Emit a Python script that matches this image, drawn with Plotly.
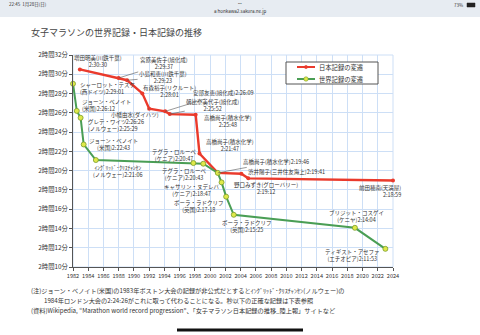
import plotly.graph_objects as go

# ---------------- data ----------------
jp_year = [1982.9, 1988.0, 1989.1, 1991.1, 1992.0, 1994.1, 1994.7, 1998.1, 1998.6, 2001.0, 2004.1, 2005.0, 2024.0]
jp_time = ["2:30:30", "2:29:37", "2:29:23", "2:28:01", "2:26:26", "2:26:09", "2:25:52",
           "2:25:48", "2:21:47", "2:19:46", "2:19:41", "2:19:12", "2:18:59"]
jp_name = ["増田明美(川鉄千葉)", "宮原美佐子(旭化成)", "小島和恵(川鉄千葉)", "有森裕子(リクルート)",
           "小幡由水(ダイハツ)", "安部友恵(旭化成)", "朝比奈美代子(旭化成)", "高橋尚子(積水化学)",
           "高橋尚子(積水化学)", "高橋尚子(積水化学)", "渋井陽子(三井住友海上)", "野口みずき(グローバリー)",
           "前田穂南(天満屋)"]

wr_year = [1982.0, 1982.5, 1983.0, 1983.4, 1985.0, 1997.8, 1999.1, 2001.0, 2001.5, 2002.1, 2003.1, 2019.0, 2023.0]
wr_time = ["2:29:01", "2:26:12", "2:25:29", "2:22:43", "2:21:06", "2:20:47", "2:20:43",
           "2:19:46", "2:18:47", "2:17:18", "2:15:25", "2:14:04", "2:11:53"]
wr_name = ["シャーロット・テスケ", "ジョーン・ベノイト", "グレテ・ワイツ", "ジョーン・ベノイト",
           "ｲﾝｸﾞﾘｯﾄﾞ･ｸﾘｽﾁｬﾝｾﾝ", "テグラ・ロルーペ", "テグラ・ロルーペ", None,
           "キャサリン・ヌデレバ", "ポーラ・ラドクリフ", "ポーラ・ラドクリフ", "ブリジット・コスゲイ",
           "ティギスト・アセファ"]
wr_country = ["(西ドイツ)", "(米国)", "(ノルウェー)", "(米国)", "(ノルウェー)", "(ケニア)", "(ケニア)", None,
              "(ケニア)", "(英国)", "(英国)", "(ケニヤ)", "(エチオピア)"]

y_ticks = list(range(10, 33, 2))
y_ticktext = [f"2時間{v}分" for v in y_ticks]
x_ticks = list(range(1982, 2025, 2))

title_text = "女子マラソンの世界記録・日本記録の推移"
legend_jp = "日本記録の変遷"
legend_wr = "世界記録の変遷"
note_lines = [
    "(注)ジョーン・ベノイト(米国)の1983年ボストン大会の記録が非公式だとするとｲﾝｸﾞﾘｯﾄﾞ･ｸﾘｽﾁｬﾝｾﾝ(ノルウェー)の",
    "1984年ロンドン大会の2:24:26がこれに取って代わることになる。秒以下の正確な記録は下表参照",
    "(資料)Wikipedia, “Marathon world record progression”、「女子マラソン日本記録の推移_陸上報」サイトなど",
]


def to_min(s):
    h, m, sec = s.split(":")
    return (int(h) - 2) * 60 + int(m) + int(sec) / 60


jp_y = [to_min(t) for t in jp_time]
wr_y = [to_min(t) for t in wr_time]

# ---------------- style / layout ----------------
W, H = 480, 335
L, R, T, B = 73, 87, 55, 68
FONT = "Noto Sans CJK JP"
RED = "#ea3a2c"
GREEN = "#4a9e55"
MK_FILL = "#dfe94a"
MK_LINE = "#7a9a2a"
GRID = "#cddff6"
TXT = "#333333"
LAB = 5.5

fig = go.Figure()
fig.add_trace(go.Scatter(
    x=jp_year, y=jp_y, mode="lines+markers", name=legend_jp, showlegend=False,
    line=dict(color=RED, width=2.4), marker=dict(color=RED, size=4),
    cliponaxis=False))
fig.add_trace(go.Scatter(
    x=wr_year, y=wr_y, mode="lines+markers", name=legend_wr, showlegend=False,
    line=dict(color=GREEN, width=2.0),
    marker=dict(color=MK_FILL, size=5, line=dict(color=MK_LINE, width=0.8)),
    cliponaxis=False))

# label placement: (dx, dy, mode, arrow)
jp_place = [
    (18, -8, "c", False), (45, -14, "c", True), (36, -3, "c", True), (27, -2, "c", False),
    (-14, 10, "c", True), (58, -18, "c", True), (43, -8.5, "c", True), (32, 7, "c", False),
    (31, -8, "c", False), (58, -11, "c", True), (45, -2, "c", False), (18, 10.6, "c", False),
    (10, 11.5, "r", False),
]
jp_oneline = [False, False, False, False, False, True, False, False, False, True, True, False, False]

wr_place = [
    (5, 4.3, "l"), (3, -5, "l"), (5, 7.6, "l"), (29.5, 0.5, "c"), (22, 11, "c"),
    (-19, -8, "c"), (-19, 11, "c"), None, (-30, 8, "c"), (-27, 10, "c"),
    (13, 12, "c"), (2, -11, "c"), (-33, 6.5, "c"),
]

for i in range(len(jp_year)):
    dx, dy, mode, arrow = jp_place[i]
    sep = "" if jp_oneline[i] else "<br>"
    text = f"{jp_name[i]}{sep}{jp_time[i]}"
    common = dict(x=jp_year[i], y=jp_y[i], text=text,
                  font=dict(family=FONT, size=LAB, color=TXT))
    if arrow:
        fig.add_annotation(**common, showarrow=True, ax=dx, ay=dy, arrowhead=0,
                           arrowwidth=0.6, arrowcolor="#555555", standoff=0, align="center")
    else:
        xa = {"c": "center", "l": "left", "r": "right"}[mode]
        fig.add_annotation(**common, showarrow=False, xshift=dx, yshift=-dy,
                           xanchor=xa, yanchor="middle", align=xa)

for i in range(len(wr_year)):
    if wr_place[i] is None:
        continue
    dx, dy, mode = wr_place[i]
    text = f"{wr_name[i]}<br>{wr_country[i]}{wr_time[i]}"
    xa = {"c": "center", "l": "left", "r": "right"}[mode]
    fig.add_annotation(x=wr_year[i], y=wr_y[i], text=text, showarrow=False,
                       xshift=dx, yshift=-dy, xanchor=xa, yanchor="middle", align=xa,
                       font=dict(family=FONT, size=LAB, color=TXT))


def px_x(p):
    return (p - L) / (W - L - R)


def px_y(p):
    return (H - B - p) / (H - T - B)


def pfont(size, color=TXT):
    return dict(family=FONT, size=size, color=color)


# title
fig.add_annotation(xref="paper", yref="paper", x=px_x(29), y=px_y(33), text=title_text,
                   showarrow=False, xanchor="left", yanchor="middle", font=pfont(9, "#444444"))

# manual compact legend
fig.add_shape(type="rect", xref="paper", yref="paper", x0=px_x(286), x1=px_x(378),
              y0=px_y(84), y1=px_y(62), line=dict(color="#555555", width=1), fillcolor="white")
for yy, col, name, green in [(67, RED, legend_jp, False), (79, GREEN, legend_wr, True)]:
    fig.add_shape(type="line", xref="paper", yref="paper", x0=px_x(297), x1=px_x(315),
                  y0=px_y(yy), y1=px_y(yy), line=dict(color=col, width=2))
    r = 2.2 if green else 1.6
    fig.add_shape(type="circle", xref="paper", yref="paper", x0=px_x(306 - r), x1=px_x(306 + r),
                  y0=px_y(yy + r), y1=px_y(yy - r),
                  fillcolor=MK_FILL if green else RED,
                  line=dict(color=MK_LINE if green else RED, width=0.6))
    fig.add_annotation(xref="paper", yref="paper", x=px_x(317), y=px_y(yy), text=name,
                       showarrow=False, xanchor="left", yanchor="middle", font=pfont(6.3))

# notes
note_pos = [(29, 290), (42, 300.5), (29, 310)]
for (nx, ny), t in zip(note_pos, note_lines):
    fig.add_annotation(xref="paper", yref="paper", x=px_x(nx), y=px_y(ny), text=t,
                       showarrow=False, xanchor="left", yanchor="middle", font=pfont(6.2))

# status bar (screenshot chrome)
fig.add_shape(type="rect", xref="paper", yref="paper", x0=px_x(0), x1=px_x(W),
              y0=px_y(17), y1=px_y(0), fillcolor="#e7ecf2", line_width=0, layer="below")
fig.add_annotation(xref="paper", yref="paper", x=px_x(7), y=px_y(5), text="22:45  1月28日(日)",
                   showarrow=False, xanchor="left", yanchor="middle", font=pfont(4.5))
fig.add_annotation(xref="paper", yref="paper", x=px_x(240), y=px_y(3), text="•••",
                   showarrow=False, xanchor="center", yanchor="middle", font=pfont(3.5, "#555555"))
fig.add_annotation(xref="paper", yref="paper", x=px_x(240), y=px_y(11), text="a honkawa2.sakura.ne.jp",
                   showarrow=False, xanchor="center", yanchor="middle", font=pfont(4.5))
fig.add_annotation(xref="paper", yref="paper", x=px_x(465), y=px_y(5), text="73%",
                   showarrow=False, xanchor="right", yanchor="middle", font=pfont(4.5))
fig.add_shape(type="rect", xref="paper", yref="paper", x0=px_x(467), x1=px_x(475),
              y0=px_y(7), y1=px_y(3), fillcolor="#222222", line=dict(color="#222222", width=0.5))
# home indicator
fig.add_shape(type="line", xref="paper", yref="paper", x0=px_x(177), x1=px_x(303),
              y0=px_y(330), y1=px_y(330), line=dict(color="#111111", width=3))

fig.update_xaxes(range=[1982, 2024], tickvals=x_ticks, tickangle=0, showgrid=True,
                 gridcolor=GRID, gridwidth=1, showline=True, linecolor="#555555", linewidth=1,
                 ticks="outside", ticklen=3, tickcolor="#555555", zeroline=False,
                 tickfont=pfont(5.6))
fig.update_yaxes(range=[10, 32], tickvals=y_ticks, ticktext=y_ticktext, showgrid=True,
                 gridcolor=GRID, gridwidth=1, showline=True, linecolor="#555555", linewidth=1,
                 ticks="outside", ticklen=3, tickcolor="#555555", zeroline=False,
                 tickfont=pfont(6.3))

# right / top border in grid colour
fig.add_shape(type="rect", xref="paper", yref="paper", x0=0, x1=1, y0=0, y1=1,
              line=dict(color=GRID, width=1), layer="below")

fig.update_layout(
    width=W, height=H, margin=dict(l=L, r=R, t=T, b=B),
    paper_bgcolor="white", plot_bgcolor="white",
    font=dict(family=FONT, color=TXT),
    showlegend=False,
)

fig.write_html("out.html")
